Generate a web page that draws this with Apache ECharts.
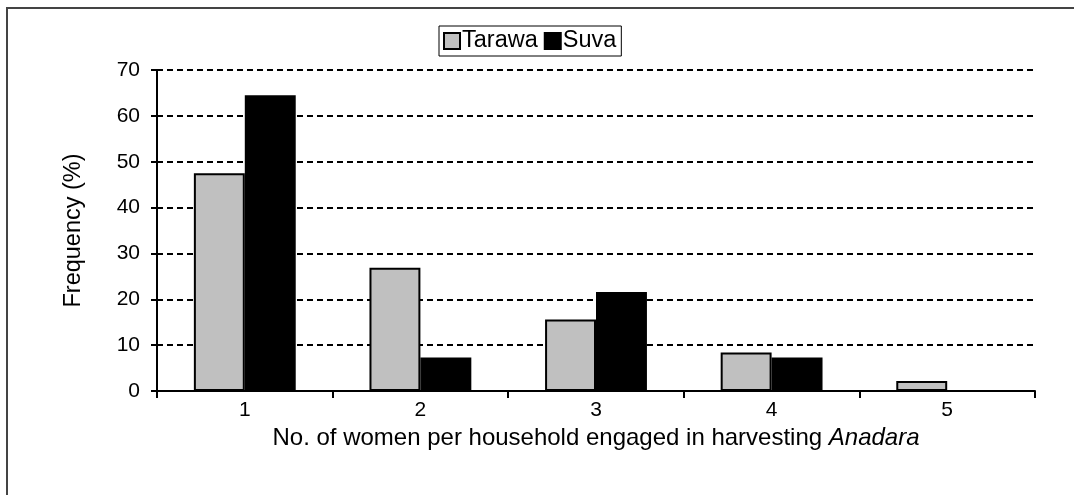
<!DOCTYPE html>
<html>
<head>
<meta charset="utf-8">
<script src="https://cdn.jsdelivr.net/npm/echarts@6/dist/echarts.min.js"></script>
<style>
html,body{margin:0;padding:0;background:#fff;}
#chart{width:1074px;height:495px;}
</style>
</head>
<body>
<div id="chart"></div>
<script>
const categories = ['1', '2', '3', '4', '5'];
const tarawa = [47.5, 26.9, 15.6, 8.4, 2.2];
const suva = [64.5, 7.3, 21.6, 7.3, 0];
const seriesNames = ['Tarawa', 'Suva'];
const xTitle = 'No. of women per household engaged in harvesting ';
const xTitleItalic = 'Anadara';
const yTitle = 'Frequency (%)';

const font = '"Liberation Sans", Arial, sans-serif';
const chart = echarts.init(document.getElementById('chart'), null, {renderer: 'canvas'});
chart.setOption({
  backgroundColor: '#fff',
  animation: false,
  textStyle: {fontFamily: font, color: '#000'},
  graphic: [{
    type: 'rect',
    shape: {x: 7, y: 8, width: 1200, height: 700},
    style: {fill: 'none', stroke: '#444', lineWidth: 2},
    silent: true
  }],
  legend: {
    left: 439, top: 26,
    data: seriesNames,
    icon: 'rect',
    itemWidth: 16, itemHeight: 16,
    itemGap: 6,
    padding: [3, 5, 3, 4],
    borderColor: '#000', borderWidth: 1,
    itemStyle: {borderColor: '#000', borderWidth: 2},
    textStyle: {fontFamily: font, fontSize: 23.5, color: '#000', padding: [0, 0, 0, -3]}
  },
  grid: {left: 157, right: 39, top: 70, bottom: 104, containLabel: false},
  xAxis: {
    type: 'category',
    data: categories,
    name: '{a|' + xTitle + '}{b|' + xTitleItalic + '}',
    nameLocation: 'middle',
    nameGap: 29,
    nameTextStyle: {
      rich: {
        a: {fontFamily: font, fontSize: 24, color: '#000'},
        b: {fontFamily: font, fontSize: 24, color: '#000', fontStyle: 'italic'}
      }
    },
    axisLine: {lineStyle: {color: '#000', width: 2}},
    axisTick: {show: true, length: 7, lineStyle: {color: '#000', width: 2}},
    axisLabel: {fontFamily: font, fontSize: 21, color: '#000', margin: 9},
    splitLine: {show: false}
  },
  yAxis: {
    type: 'value',
    min: 0, max: 70, interval: 10,
    name: yTitle,
    nameLocation: 'middle',
    nameGap: 71,
    nameRotate: 90,
    nameTextStyle: {fontFamily: font, fontSize: 23.5, color: '#000'},
    axisLine: {show: true, lineStyle: {color: '#000', width: 2}},
    axisTick: {show: true, length: 6, lineStyle: {color: '#000', width: 2}},
    axisLabel: {fontFamily: font, fontSize: 21, color: '#000', margin: 17},
    splitLine: {show: true, lineStyle: {color: '#000', width: 2, type: [6, 4]}}
  },
  series: [{
    name: seriesNames[0],
    type: 'bar',
    data: tarawa,
    barGap: '0%',
    barCategoryGap: '42%',
    itemStyle: {color: '#c0c0c0', borderColor: '#000', borderWidth: 2}
  }, {
    name: seriesNames[1],
    type: 'bar',
    data: suva,
    itemStyle: {color: '#000', borderColor: '#000', borderWidth: 1.5}
  }]
});
</script>
</body>
</html>
